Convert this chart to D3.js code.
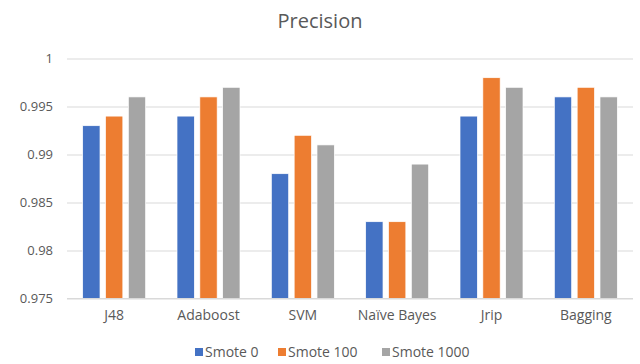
<!DOCTYPE html>
<html>
<head>
<meta charset="utf-8">
<script src="https://cdn.jsdelivr.net/npm/d3@7"></script>
<style>
  html, body { margin: 0; padding: 0; background: #fff; }
  svg text { font-family: "Open Sans", "Noto Sans", sans-serif; fill: #595959; }
</style>
</head>
<body>
<svg id="chart" width="640" height="364"></svg>
<script>
// Classifiers on the x axis
const categories = ["J48", "Adaboost", "SVM", "Naïve Bayes", "Jrip", "Bagging"];
// Series names and precision values
const seriesNames = ["Smote 0", "Smote 100", "Smote 1000"];
const smote0    = [0.993, 0.994, 0.988, 0.983, 0.994, 0.996];
const smote100  = [0.994, 0.996, 0.992, 0.983, 0.998, 0.997];
const smote1000 = [0.996, 0.997, 0.991, 0.989, 0.997, 0.996];
const yTicks = [0.975, 0.98, 0.985, 0.99, 0.995, 1];
const yTickLabels = ["0.975", "0.98", "0.985", "0.99", "0.995", "1"];
const colors = ["#4472C4", "#ED7D31", "#A5A5A5"];

const seriesValues = [smote0, smote100, smote1000];
const svg = d3.select("#chart");

const x = d3.scaleBand().domain(categories).range([67, 633]);
const xs = d3.scaleBand().domain(seriesNames)
  .range([x.bandwidth() / 2 - 31.5, x.bandwidth() / 2 + 31.5]).paddingInner(0.24);
const y = d3.scaleLinear().domain([0.975, 1]).range([298.5, 58.5]);

// Title
svg.append("text").attr("x", 320).attr("y", 28).attr("text-anchor", "middle")
  .style("font-size", "20px").text("Precision");

// Horizontal gridlines and y labels
const yAxis = d3.axisLeft(y).tickValues(yTicks)
  .tickFormat((d, i) => yTickLabels[i]).tickSize(-(633 - 67)).tickPadding(14);
const gy = svg.append("g").attr("transform", "translate(67,0)").call(yAxis);
gy.select(".domain").remove();
gy.selectAll(".tick line").attr("stroke", "#D9D9D9").attr("stroke-width", 1);
gy.selectAll(".tick text").style("font-size", "13px").attr("fill", "#595959");

// Bars
const groups = svg.append("g").selectAll("g").data(categories).join("g")
  .attr("transform", d => `translate(${x(d)},0)`);
groups.selectAll("rect")
  .data((c, ci) => seriesNames.map((s, si) => ({ s, si, v: seriesValues[si][ci] })))
  .join("rect")
  .attr("x", d => xs(d.s))
  .attr("width", xs.bandwidth())
  .attr("y", d => y(d.v))
  .attr("height", d => y(0.975) - y(d.v))
  .attr("fill", d => colors[d.si])
  .attr("stroke", "#fff").attr("stroke-width", 0.7);

// Baseline
svg.append("line").attr("x1", 67).attr("x2", 633).attr("y1", 298.5).attr("y2", 298.5)
  .attr("stroke", "#D9D9D9");

// Category labels
const xAxis = d3.axisBottom(x).tickSize(0).tickPadding(12);
const gx = svg.append("g").attr("transform", "translate(0,298.5)").call(xAxis);
gx.select(".domain").remove();
gx.selectAll(".tick text").style("font-size", "14px").attr("fill", "#595959");

// Legend
const legendX = [195, 278, 382];
const lg = svg.append("g").selectAll("g").data(seriesNames).join("g")
  .attr("transform", (d, i) => `translate(${legendX[i]},352)`);
lg.append("rect").attr("x", 0).attr("y", -4).attr("width", 8).attr("height", 8)
  .attr("fill", (d, i) => colors[i]);
lg.append("text").attr("x", 10).attr("y", 0).attr("dy", "0.35em")
  .style("font-size", "14px").text(d => d);
</script>
</body>
</html>
